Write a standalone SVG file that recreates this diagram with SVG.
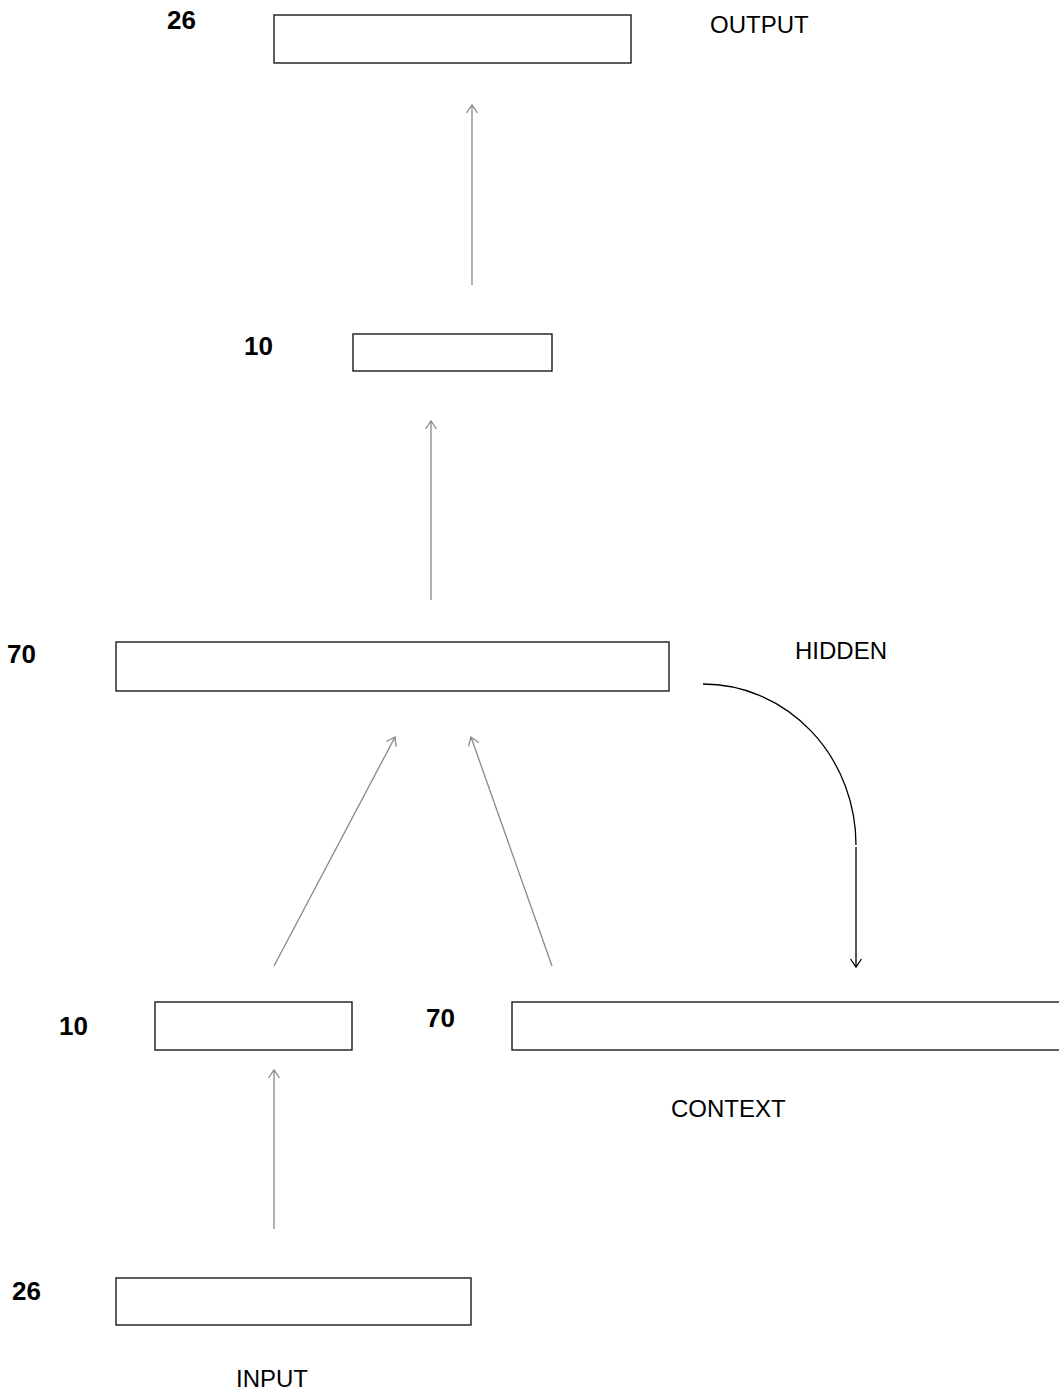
<svg xmlns="http://www.w3.org/2000/svg" width="1059" height="1395" viewBox="0 0 1059 1395">
<style>
.box{fill:#fff;stroke:#1a1a1a;stroke-width:1.4}
.num{font-family:"Liberation Sans",Arial,sans-serif;font-weight:bold;font-size:26px;fill:#000}
.lbl{font-family:"Liberation Sans",Arial,sans-serif;font-size:24px;fill:#000}
.g{stroke:#888;stroke-width:1.3;fill:none}
.k{stroke:#000;stroke-width:1.3;fill:none}
</style>
<defs>
<marker id="ag" markerWidth="14" markerHeight="14" refX="10" refY="7" orient="auto" markerUnits="userSpaceOnUse">
<path d="M2,1.5 L10,7 L2,12.5" fill="none" stroke="#888" stroke-width="1.3"/>
</marker>
<marker id="ak" markerWidth="14" markerHeight="14" refX="10" refY="7" orient="auto" markerUnits="userSpaceOnUse">
<path d="M2,1.5 L10,7 L2,12.5" fill="none" stroke="#000" stroke-width="1.3"/>
</marker>
</defs>
<g id="output">
<rect class="box" x="274" y="15" width="357" height="48"/>
<text class="num" x="167" y="29">26</text>
<text class="lbl" x="710" y="33">OUTPUT</text>
</g>
<g id="layer10">
<rect class="box" x="353" y="334" width="199" height="37"/>
<text class="num" x="244" y="355">10</text>
</g>
<g id="hidden">
<rect class="box" x="116" y="642" width="553" height="49"/>
<text class="num" x="7" y="663">70</text>
<text class="lbl" x="795" y="659">HIDDEN</text>
</g>
<g id="input10">
<rect class="box" x="155" y="1002" width="197" height="48"/>
<text class="num" x="59" y="1035">10</text>
</g>
<g id="context">
<rect class="box" x="512" y="1002" width="560" height="48"/>
<text class="num" x="426" y="1027">70</text>
<text class="lbl" x="671" y="1117">CONTEXT</text>
</g>
<g id="input">
<rect class="box" x="116" y="1278" width="355" height="47"/>
<text class="num" x="12" y="1300">26</text>
<text class="lbl" x="236" y="1387">INPUT</text>
</g>
<g id="connectors">
<line class="g" x1="472" y1="285" x2="472" y2="105" marker-end="url(#ag)"/>
<line class="g" x1="431" y1="600" x2="431" y2="421" marker-end="url(#ag)"/>
<line class="g" x1="274" y1="966" x2="395" y2="737" marker-end="url(#ag)"/>
<line class="g" x1="552" y1="966" x2="471" y2="737" marker-end="url(#ag)"/>
<line class="g" x1="274" y1="1229" x2="274" y2="1070" marker-end="url(#ag)"/>
<path class="k" d="M703,684 A153,161 0 0 1 856,845"/>
<line class="k" x1="856" y1="847" x2="856" y2="967" marker-end="url(#ak)"/>
</g>
</svg>
